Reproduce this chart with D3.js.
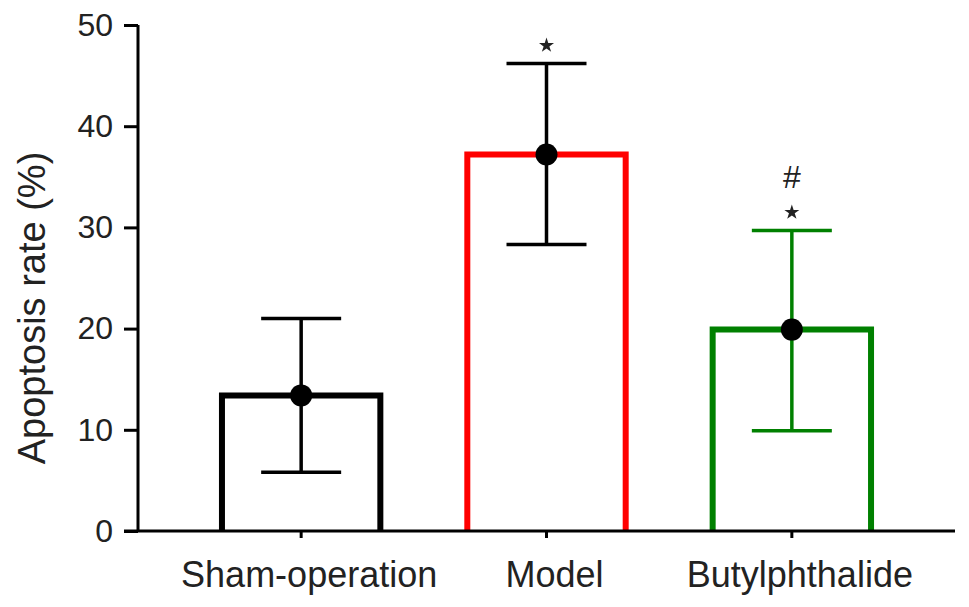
<!DOCTYPE html>
<html>
<head>
<meta charset="utf-8">
<script src="https://cdn.jsdelivr.net/npm/d3@7"></script>
<style>
  body { margin: 0; background: #fff; }
  svg { display: block; font-family: "Liberation Sans", Arial, sans-serif; }
</style>
</head>
<body>
<div id="chart"></div>
<script>
// group data
var groups = ["Sham-operation", "Model", "Butylphthalide"];
var means = [13.4, 37.2, 19.9];
var errUpper = [21.0, 46.2, 29.7];
var errLower = [5.8, 28.3, 9.9];
var colors = ["#000000", "#ff0000", "#008000"];
var errColors = ["#000000", "#000000", "#008000"];
var starMarks = [false, true, true];
var hashMarks = ["", "", "#"];
var yTicks = [0, 10, 20, 30, 40, 50];

var width = 969, height = 607;
var margin = { top: 25, right: 14, bottom: 76, left: 138 };

var svg = d3.select("#chart").append("svg")
    .attr("width", width)
    .attr("height", height);

var x = d3.scaleBand()
    .domain(groups)
    .range([margin.left, width - margin.right])
    .paddingInner(0.33)
    .paddingOuter(0.33);

var y = d3.scaleLinear()
    .domain([0, 50])
    .range([height - margin.bottom, margin.top]);

var sw = 6;
function cx(d) { return x(d) + x.bandwidth() / 2; }

/* bars: open rectangles, no bottom edge */
svg.selectAll("path.bar")
    .data(groups)
    .enter().append("path")
    .attr("class", "bar")
    .attr("fill", "none")
    .attr("stroke", function (d, i) { return colors[i]; })
    .attr("stroke-width", sw)
    .attr("stroke-linejoin", "miter")
    .attr("d", function (d, i) {
        var x0 = x(d) + sw / 2, x1 = x(d) + x.bandwidth() - sw / 2;
        return "M" + x0 + "," + y(0) + "V" + y(means[i]) + "H" + x1 + "V" + y(0);
    });

/* error bars */
var capHalf = 40;
var err = svg.selectAll("g.err")
    .data(groups)
    .enter().append("g")
    .attr("class", "err")
    .attr("stroke", function (d, i) { return errColors[i]; })
    .attr("stroke-width", 3.5);

err.append("line")
    .attr("x1", cx)
    .attr("x2", cx)
    .attr("y1", function (d, i) { return y(errLower[i]); })
    .attr("y2", function (d, i) { return y(errUpper[i]); });

err.append("line")
    .attr("x1", function (d) { return cx(d) - capHalf; })
    .attr("x2", function (d) { return cx(d) + capHalf; })
    .attr("y1", function (d, i) { return y(errUpper[i]); })
    .attr("y2", function (d, i) { return y(errUpper[i]); });

err.append("line")
    .attr("x1", function (d) { return cx(d) - capHalf; })
    .attr("x2", function (d) { return cx(d) + capHalf; })
    .attr("y1", function (d, i) { return y(errLower[i]); })
    .attr("y2", function (d, i) { return y(errLower[i]); });

/* mean dots */
svg.selectAll("circle.mean")
    .data(groups)
    .enter().append("circle")
    .attr("class", "mean")
    .attr("cx", cx)
    .attr("cy", function (d, i) { return y(means[i]); })
    .attr("r", 11)
    .attr("fill", "#000");

/* significance marks */
svg.selectAll("path.star")
    .data(groups.filter(function (d, i) { return starMarks[i]; }))
    .enter().append("path")
    .attr("class", "star")
    .attr("transform", function (d) {
        var i = groups.indexOf(d);
        return "translate(" + cx(d) + "," + (y(errUpper[i]) - 18) + ")";
    })
    .attr("d", d3.symbol().type(d3.symbolStar).size(70))
    .attr("fill", "#222");

svg.selectAll("text.hash")
    .data(groups)
    .enter().append("text")
    .attr("class", "hash")
    .attr("x", cx)
    .attr("y", function (d, i) { return y(errUpper[i]) - 42; })
    .attr("text-anchor", "middle")
    .attr("font-size", 32)
    .attr("fill", "#222")
    .text(function (d, i) { return hashMarks[i]; });

/* axes */
var yAxis = svg.append("g")
    .attr("transform", "translate(" + margin.left + ",0)")
    .call(d3.axisLeft(y).tickValues(yTicks).tickSize(14).tickPadding(11));

var xAxis = svg.append("g")
    .attr("transform", "translate(0," + y(0) + ")")
    .call(d3.axisBottom(x).tickSize(7).tickPadding(23));

xAxis.select(".domain")
    .attr("d", "M" + (margin.left - 14) + ",0H" + (width - margin.right));

[yAxis, xAxis].forEach(function (a) {
    a.selectAll(".domain").attr("stroke", "#000").attr("stroke-width", 3);
    a.selectAll(".tick line").attr("stroke", "#000").attr("stroke-width", 3);
    a.selectAll(".tick text")
        .attr("fill", "#222")
        .attr("font-family", "'Liberation Sans', Arial, sans-serif");
});
yAxis.select(".domain").attr("d", "M0," + y(50) + "V" + y(0));
yAxis.selectAll(".tick text").attr("font-size", 32);
xAxis.selectAll(".tick text").attr("font-size", 36).attr("dx", 8);

svg.append("text")
    .attr("transform", "translate(45,308) rotate(-90)")
    .attr("text-anchor", "middle")
    .attr("font-size", 38)
    .attr("fill", "#222")
    .text("Apoptosis rate (%)");
</script>
</body>
</html>
